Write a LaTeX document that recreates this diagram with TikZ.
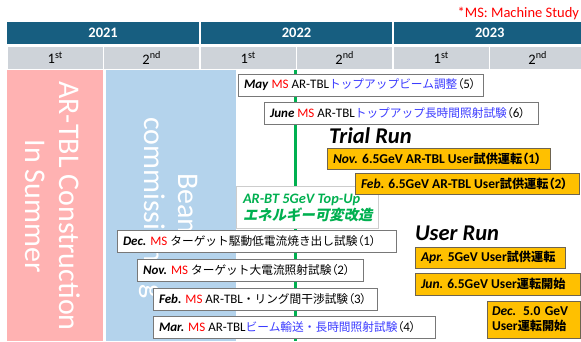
\documentclass[tikz,border=0pt]{standalone}
\usepackage{fontspec}
\setmainfont{Carlito}
\newfontfamily\jp[Scale=0.9]{Noto Sans CJK JP}
\newfontfamily\jpp[Scale=0.9,RawFeature=+palt]{Noto Sans CJK JP}
\newfontfamily\jpsl[FakeSlant=0.2]{Noto Sans CJK JP}
\newcommand\jt[1]{{\jp #1}}
\newcommand\pn[1]{{\jpp （}#1{\jpp ）}}
\definecolor{hdrblue}{RGB}{23,94,128}
\definecolor{hdrgray}{RGB}{206,211,217}
\definecolor{pinkbg}{RGB}{255,178,178}
\definecolor{bluebg}{RGB}{180,211,236}
\definecolor{orange1}{RGB}{255,192,0}
\definecolor{obrd}{RGB}{110,100,80}
\definecolor{boxgray}{RGB}{120,120,120}
\definecolor{green1}{RGB}{0,176,80}
\definecolor{msred}{RGB}{255,0,0}
\definecolor{jblue}{RGB}{60,60,255}
\definecolor{lightline}{RGB}{205,205,205}
\begin{document}
\begin{tikzpicture}[x=1pt,y=-1pt,
  every node/.style={inner sep=0pt, outer sep=0pt},
  yearcell/.style={fill=hdrblue, minimum width=191.5pt, minimum height=22pt, text=white,
    font=\fontsize{14.5}{16}\selectfont\bfseries},
  semcell/.style={fill=hdrgray, minimum width=95pt, minimum height=22pt,
    font=\fontsize{14.5}{16}\selectfont},
  wbox/.style={draw=boxgray, line width=0.8pt, fill=white, anchor=north west,
    inner xsep=6pt, inner ysep=0pt, minimum height=22pt, font=\fontsize{13}{15}\selectfont},
  obox/.style={wbox, draw=obrd, fill=orange1, font=\fontsize{13.5}{15}\selectfont\bfseries},
  vtext/.style={rotate=-90, text=white, align=center, font=\fontsize{30}{34}\selectfont},
  runlabel/.style={anchor=west, font=\fontsize{22.5}{24}\selectfont\bfseries\itshape},
  topuptext/.style={anchor=base west, text=green1, font=\fontsize{14.4}{17.5}\selectfont\bfseries},
  gline/.style={draw=green1, line width=3pt}
]
\useasboundingbox (0,0) rectangle (581,341);
\clip (0,0) rectangle (581,341);

% header
\node[anchor=base east, text=msred, font=\fontsize{14.5}{16}\selectfont] (msnote) at (579,17.5) {*MS: Machine Study};
\node[yearcell] (y2021) at (103.1,33) {2021};
\node[yearcell] (y2022) at (296.5,33) {2022};
\node[yearcell] (y2023) at (489.8,33) {2023};
\foreach \i/\c/\t in {0/55.25/1\textsuperscript{st},1/151.75/2\textsuperscript{nd},2/248.25/1\textsuperscript{st},3/344.75/2\textsuperscript{nd},4/441.25/1\textsuperscript{st},5/537.75/2\textsuperscript{nd}}
  \node[semcell] (sem\i) at (\c,58) {\t};

% background columns
\fill[pinkbg] (7,70) rectangle (103,341);
\fill[bluebg] (106,70) rectangle (236,341);
\node[vtext] (constr) at (53,206) {AR-TBL Construction\\In Summer};
\node[vtext] (beam) at (169,208) {Beam\\commissioning};

% green timeline
\coordinate (gtop) at (295,70);
\coordinate (gbot) at (295,341);
\draw[gline] (gtop) -- (gbot);

% top-up box
\node[draw=lightline, line width=0.6pt, fill=white, anchor=north west, minimum width=142pt, minimum height=42pt] (topupbox) at (236,186) {};
\node[topuptext] (topup1) at (243,203) {\textit{AR-BT 5GeV Top-Up}};
\node[topuptext] (topup2) at (243,220.5) {\jpsl エネルギー可変改造};

% MS boxes (2022)
\node[wbox, minimum width=245pt] (may) at (238,74)
  {\makebox[233pt][l]{\textbf{\textit{May}} \textcolor{msred}{MS} AR-TBL\textcolor{jblue}{\jt{トップアップビーム調整}}\pn{5}}};
\node[wbox, minimum width=274pt] (june) at (264,102)
  {\makebox[262pt][l]{\textbf{\textit{June}} \textcolor{msred}{MS} AR-TBL\textcolor{jblue}{\jt{トップアップ長時間照射試験}}\pn{6}}};

\node[runlabel] (trial) at (329,136) {Trial Run};
\node[obox, minimum width=223pt, minimum height=21pt] (nov1) at (327,148)
  {\makebox[211pt][l]{\textit{Nov.} 6.5GeV AR-TBL User\jt{試供運転}\pn{1}}};
\node[obox, minimum width=224pt, minimum height=21pt] (feb2) at (355,173)
  {\makebox[212pt][l]{\textit{Feb.} 6.5GeV AR-TBL User\jt{試供運転}\pn{2}}};

% MS boxes (2021-2022)
\node[wbox, minimum width=279pt] (dec) at (117,230)
  {\makebox[267pt][l]{\textbf{\textit{Dec.}} \textcolor{msred}{MS} \jt{ターゲット駆動低電流焼き出し試験}\pn{1}}};
\node[wbox, minimum width=226pt] (nov) at (137,259)
  {\makebox[214pt][l]{\textbf{\textit{Nov.}} \textcolor{msred}{MS} \jt{ターゲット大電流照射試験}\pn{2}}};
\node[wbox, minimum width=224pt] (feb) at (153,288)
  {\makebox[212pt][l]{\textbf{\textit{Feb.}} \textcolor{msred}{MS} AR-TBL\jt{・リング間干渉試験}\pn{3}}};
\node[wbox, minimum width=282pt] (mar) at (153,316)
  {\makebox[270pt][l]{\textbf{\textit{Mar.}} \textcolor{msred}{MS} AR-TBL\textcolor{jblue}{\jt{ビーム輸送・長時間照射試験}}\pn{4}}};

% user run
\node[runlabel] (userrun) at (415,233) {User Run};
\node[obox, minimum width=150pt, minimum height=21pt] (apr) at (415,247)
  {\makebox[138pt][l]{\textit{Apr.} 5GeV User\jt{試供運転}}};
\node[obox, minimum width=165pt] (jun) at (415,273)
  {\makebox[153pt][l]{\textit{Jun.} 6.5GeV User\jt{運転開始}}};
\node[obox, minimum width=93pt, minimum height=37pt, inner xsep=5pt, text width=83pt, align=left,
  font=\fontsize{13.5}{15}\selectfont\bfseries] (decu) at (487,301)
  {\textit{Dec.} 5.0 GeV\\User\jt{運転開始}};
\end{tikzpicture}
\end{document}
